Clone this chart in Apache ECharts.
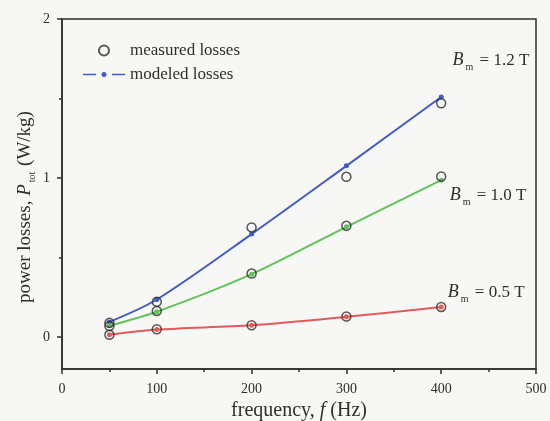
<!DOCTYPE html>
<html>
<head>
<meta charset="utf-8">
<script src="https://cdn.jsdelivr.net/npm/echarts@6/dist/echarts.min.js"></script>
<style>
  html, body { margin: 0; padding: 0; background: #f7f7f5; }
  #chart { width: 550px; height: 421px; }
</style>
</head>
<body>
<div id="chart"></div>
<script>
// Core-loss data: frequency (Hz) vs total power loss (W/kg)
const frequencies = [50, 100, 200, 300, 400];

const modeled12 = [0.096, 0.237, 0.648, 1.077, 1.51];
const measured12 = [0.09, 0.222, 0.69, 1.008, 1.47];

const modeled10 = [0.072, 0.16, 0.396, 0.694, 0.987];
const measured10 = [0.07, 0.165, 0.40, 0.70, 1.01];

const modeled05 = [0.015, 0.048, 0.075, 0.128, 0.19];
const measured05 = [0.015, 0.05, 0.075, 0.13, 0.19];

const yMajorTicks = [0, 1, 2];
const yMinorTicks = [0.5, 1.5];

// Curve labels: flux density and where each label sits (data coordinates)
const curveLabels = [
  { value: '1.2 T', at: [412, 1.742] },
  { value: '1.0 T', at: [409, 0.893] },
  { value: '0.5 T', at: [407, 0.283] }
];

const FONT = 'Liberation Serif';
const INK = '#2e2e2e';
const COLORS = { b12: '#3f5cc4', b10: '#62c25a', b05: '#e25a58' };

// Legend icon for the model curves: dash, dot, dash (bounds fixed to 42 x 10)
const MODEL_ICON = 'path://M0 0M42 10' +
  'M0 4.3h13v1.4h-13z' +
  'M29 4.3h13v1.4h-13z' +
  'M23.5 5a2.5 2.5 0 1 0 -5 0a2.5 2.5 0 1 0 5 0z';

const pairs = (ys) => frequencies.map((f, i) => [f, ys[i]]);

const chart = echarts.init(document.getElementById('chart'), null, { renderer: 'canvas' });

const axisLine = { show: true, onZero: false, lineStyle: { color: INK, width: 1.5 } };

function modeledSeries(ys, color) {
  return {
    type: 'line',
    name: 'modeled losses',
    data: pairs(ys),
    smooth: 0.3,
    symbol: 'circle',
    symbolSize: 5,
    showSymbol: true,
    color: color,
    lineStyle: { color: color, width: 2 },
    itemStyle: { color: color },
    z: 3
  };
}

const option = {
  backgroundColor: '#f7f7f5',
  animation: false,
  grid: {
    left: 62, right: 14, top: 19, bottom: 52,
    outerBoundsMode: 'none',
    containLabel: false,
    show: true, borderColor: INK, borderWidth: 1.5, backgroundColor: 'transparent'
  },
  legend: {
    orient: 'vertical',
    left: 83,
    top: 42,
    padding: 0,
    itemWidth: 42,
    itemHeight: 10,
    itemGap: 7,
    textStyle: { fontFamily: FONT, fontSize: 17, color: INK },
    data: [
      { name: 'measured losses', icon: 'circle' },
      { name: 'modeled losses', icon: MODEL_ICON }
    ]
  },
  xAxis: [{
    type: 'value',
    min: 0, max: 500, interval: 100,
    name: '{n|frequency, }{i|f}{n| (Hz)}',
    nameLocation: 'middle',
    nameGap: 32,
    nameMoveOverlap: false,
    nameTextStyle: {
      rich: {
        n: { fontFamily: FONT, fontSize: 20, color: INK },
        i: { fontFamily: FONT, fontSize: 20, color: INK, fontStyle: 'italic' }
      }
    },
    axisLine: axisLine,
    axisTick: { show: true, inside: false, length: 5, lineStyle: { color: INK, width: 1.5 } },
    minorTick: { show: true, splitNumber: 2, length: 3, lineStyle: { color: INK, width: 1.5 } },
    axisLabel: { margin: 13, fontFamily: FONT, fontSize: 14, color: INK },
    splitLine: { show: false },
    minorSplitLine: { show: false }
  }],
  yAxis: [{
    type: 'value',
    min: -0.2, max: 2,
    position: 'left',
    name: '{n|power losses, }{i|P}{s|tot}{n| (W/kg)}',
    nameLocation: 'middle',
    nameGap: 24,
    nameMoveOverlap: false,
    nameTextStyle: {
      padding: [0, 26, 0, 0],
      rich: {
        n: { fontFamily: FONT, fontSize: 19, color: INK, lineHeight: 26, verticalAlign: 'middle' },
        i: { fontFamily: FONT, fontSize: 19, color: INK, fontStyle: 'italic', lineHeight: 26, verticalAlign: 'middle' },
        s: { fontFamily: FONT, fontSize: 10, color: INK, lineHeight: 26, verticalAlign: 'bottom', padding: [0, 1, 1, 2] }
      }
    },
    axisLine: axisLine,
    axisTick: { show: true, inside: false, length: 5, customValues: yMajorTicks, lineStyle: { color: INK, width: 1.5 } },
    axisLabel: { margin: 12, fontFamily: FONT, fontSize: 14, color: INK, customValues: yMajorTicks },
    splitLine: { show: false }
  }, {
    // minor ticks only
    type: 'value',
    min: -0.2, max: 2,
    position: 'left',
    axisLine: { show: false, onZero: false },
    axisTick: { show: true, inside: false, length: 3, customValues: yMinorTicks, lineStyle: { color: INK, width: 1.5 } },
    axisLabel: { show: false },
    splitLine: { show: false }
  }],
  series: [
    modeledSeries(modeled12, COLORS.b12),
    modeledSeries(modeled10, COLORS.b10),
    modeledSeries(modeled05, COLORS.b05),
    {
      type: 'scatter',
      name: 'measured losses',
      data: pairs(measured12).concat(pairs(measured10), pairs(measured05)),
      symbol: 'circle',
      symbolSize: 9,
      itemStyle: { color: 'rgba(0,0,0,0)', borderColor: INK, borderWidth: 1.5 },
      z: 4
    }
  ]
};

chart.setOption(option);

// Flux-density annotations next to each curve
const graphics = curveLabels.map((c) => {
  const p = chart.convertToPixel({ gridIndex: 0 }, c.at);
  return {
    type: 'text',
    x: p[0],
    y: p[1],
    style: {
      text: '{b|B}{s|m}{t| = ' + c.value + '}',
      verticalAlign: 'middle',
      rich: {
        b: { fontFamily: FONT, fontSize: 18, fontStyle: 'italic', fill: INK, lineHeight: 28, verticalAlign: 'middle' },
        s: { fontFamily: FONT, fontSize: 10, fill: INK, lineHeight: 28, verticalAlign: 'bottom', padding: [0, 2, 2, 2] },
        t: { fontFamily: FONT, fontSize: 17, fill: INK, lineHeight: 28, verticalAlign: 'middle' }
      }
    },
    z: 10
  };
});
chart.setOption({ graphic: graphics });
</script>
</body>
</html>
